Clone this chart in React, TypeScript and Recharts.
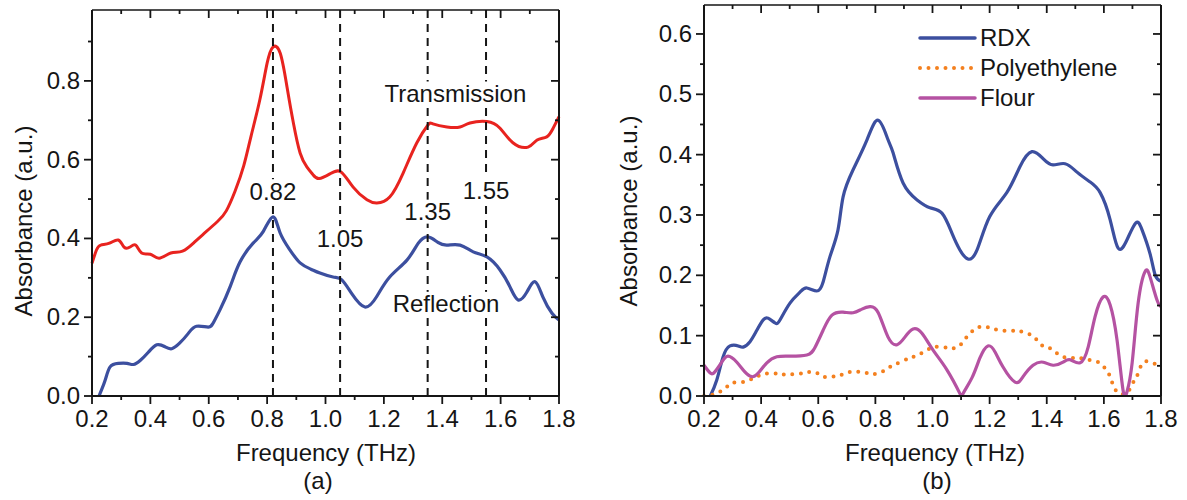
import { LineChart, Line, XAxis, YAxis, ReferenceLine, ReferenceDot, Legend } from 'recharts';

const FONT = '"Liberation Sans", Arial, Helvetica, sans-serif';
const INK = '#151515';

// ---- panel (a): transmission / reflection absorbance of RDX ----
const transFreq = [0.2, 0.215, 0.23, 0.26, 0.29, 0.31, 0.33, 0.35, 0.37, 0.4, 0.43, 0.47, 0.51, 0.55, 0.58, 0.63, 0.66, 0.69, 0.72, 0.745, 0.775, 0.8, 0.82, 0.845, 0.868, 0.89, 0.913, 0.936, 0.957, 0.978, 1.015, 1.053, 1.094, 1.142, 1.176, 1.22, 1.266, 1.313, 1.351, 1.368, 1.416, 1.461, 1.495, 1.553, 1.598, 1.642, 1.694, 1.725, 1.758, 1.78, 1.8];
const transAbs = [0.337, 0.37, 0.383, 0.388, 0.396, 0.378, 0.378, 0.383, 0.363, 0.36, 0.35, 0.363, 0.368, 0.39, 0.41, 0.443, 0.47, 0.52, 0.585, 0.66, 0.752, 0.845, 0.886, 0.87, 0.785, 0.693, 0.617, 0.582, 0.562, 0.552, 0.564, 0.569, 0.531, 0.498, 0.49, 0.505, 0.566, 0.643, 0.688, 0.691, 0.683, 0.683, 0.693, 0.697, 0.68, 0.643, 0.632, 0.65, 0.658, 0.68, 0.709];

const reflFreq = [0.224, 0.245, 0.262, 0.29, 0.32, 0.342, 0.365, 0.393, 0.422, 0.45, 0.473, 0.5, 0.53, 0.558, 0.598, 0.615, 0.638, 0.673, 0.707, 0.752, 0.787, 0.82, 0.844, 0.878, 0.913, 0.95, 0.981, 1.026, 1.056, 1.09, 1.135, 1.175, 1.22, 1.279, 1.318, 1.351, 1.385, 1.416, 1.461, 1.506, 1.553, 1.598, 1.632, 1.66, 1.69, 1.718, 1.745, 1.776, 1.8];
const reflAbs = [0.0, 0.04, 0.074, 0.083, 0.083, 0.08, 0.09, 0.111, 0.13, 0.125, 0.12, 0.134, 0.159, 0.177, 0.175, 0.185, 0.218, 0.277, 0.34, 0.388, 0.418, 0.455, 0.415, 0.371, 0.338, 0.322, 0.312, 0.302, 0.295, 0.26, 0.226, 0.252, 0.302, 0.345, 0.388, 0.404, 0.39, 0.383, 0.383, 0.366, 0.353, 0.32, 0.277, 0.244, 0.264, 0.29, 0.251, 0.21, 0.193];

const peakFreqs = [0.82, 1.05, 1.35, 1.55];

// ---- panel (b): RDX vs. polyethylene and flour ----
const rdxFreq = [0.222, 0.245, 0.267, 0.291, 0.32, 0.337, 0.361, 0.385, 0.407, 0.424, 0.449, 0.466, 0.501, 0.536, 0.56, 0.595, 0.617, 0.641, 0.669, 0.687, 0.722, 0.771, 0.81, 0.844, 0.862, 0.897, 0.946, 0.991, 1.033, 1.068, 1.096, 1.124, 1.156, 1.2, 1.26, 1.306, 1.348, 1.388, 1.422, 1.464, 1.506, 1.551, 1.587, 1.622, 1.65, 1.681, 1.712, 1.734, 1.762, 1.78, 1.8];
const rdxAbs = [0, 0.027, 0.065, 0.083, 0.083, 0.081, 0.09, 0.109, 0.126, 0.129, 0.121, 0.126, 0.154, 0.172, 0.179, 0.174, 0.189, 0.231, 0.275, 0.33, 0.375, 0.425, 0.457, 0.425, 0.403, 0.353, 0.325, 0.312, 0.303, 0.27, 0.242, 0.227, 0.242, 0.297, 0.337, 0.38, 0.405, 0.393, 0.383, 0.385, 0.371, 0.355, 0.337, 0.292, 0.245, 0.259, 0.287, 0.275, 0.235, 0.2, 0.19];

const peFreq = [0.2, 0.228, 0.256, 0.28, 0.302, 0.333, 0.361, 0.385, 0.407, 0.438, 0.466, 0.49, 0.519, 0.547, 0.571, 0.596, 0.617, 0.641, 0.666, 0.687, 0.712, 0.74, 0.771, 0.792, 0.823, 0.851, 0.886, 0.921, 0.949, 0.981, 1.002, 1.037, 1.068, 1.096, 1.12, 1.149, 1.177, 1.208, 1.236, 1.271, 1.299, 1.331, 1.359, 1.383, 1.404, 1.429, 1.457, 1.489, 1.517, 1.545, 1.58, 1.604, 1.622, 1.632, 1.646, 1.664, 1.685, 1.702, 1.716, 1.737, 1.769, 1.8];
const peAbs = [0, 0.002, 0.007, 0.015, 0.022, 0.023, 0.027, 0.032, 0.036, 0.038, 0.036, 0.036, 0.036, 0.038, 0.04, 0.038, 0.032, 0.032, 0.033, 0.036, 0.04, 0.04, 0.038, 0.036, 0.04, 0.048, 0.056, 0.063, 0.068, 0.076, 0.081, 0.081, 0.079, 0.084, 0.098, 0.111, 0.115, 0.112, 0.109, 0.108, 0.108, 0.104, 0.096, 0.084, 0.081, 0.073, 0.065, 0.063, 0.063, 0.06, 0.056, 0.046, 0.032, 0.018, 0.007, 0.003, 0.007, 0.022, 0.033, 0.055, 0.055, 0.05];

const flourFreq = [0.2, 0.222, 0.238, 0.262, 0.284, 0.315, 0.343, 0.368, 0.39, 0.42, 0.455, 0.501, 0.56, 0.588, 0.617, 0.648, 0.687, 0.722, 0.753, 0.781, 0.81, 0.844, 0.876, 0.904, 0.932, 0.963, 1.002, 1.051, 1.096, 1.107, 1.138, 1.166, 1.194, 1.219, 1.247, 1.289, 1.317, 1.352, 1.388, 1.422, 1.457, 1.482, 1.517, 1.545, 1.569, 1.597, 1.622, 1.646, 1.667, 1.681, 1.699, 1.72, 1.744, 1.762, 1.786, 1.8];
const flourAbs = [0.051, 0.038, 0.04, 0.056, 0.066, 0.056, 0.04, 0.032, 0.038, 0.055, 0.065, 0.066, 0.068, 0.08, 0.109, 0.134, 0.139, 0.138, 0.144, 0.148, 0.138, 0.098, 0.085, 0.098, 0.111, 0.104, 0.076, 0.043, 0.004, 0.004, 0.03, 0.063, 0.083, 0.073, 0.048, 0.023, 0.032, 0.051, 0.056, 0.051, 0.056, 0.06, 0.055, 0.081, 0.131, 0.164, 0.151, 0.093, 0.01, 0.007, 0.055, 0.154, 0.206, 0.197, 0.159, 0.148];

// axis ticks (labels only on the major ones)
const freqTicks = [0.2, 0.3, 0.4, 0.5, 0.6, 0.7, 0.8, 0.9, 1.0, 1.1, 1.2, 1.3, 1.4, 1.5, 1.6, 1.7, 1.8];
const absTicksA = [0, 0.1, 0.2, 0.3, 0.4, 0.5, 0.6, 0.7, 0.8, 0.9];
const absTicksB = [0, 0.05, 0.1, 0.15, 0.2, 0.25, 0.3, 0.35, 0.4, 0.45, 0.5, 0.55, 0.6];

const RED = '#e8231f';
const BLUE = '#3c4f9f';
const ORANGE = '#f4801f';
const MAGENTA = '#b552a2';

const toPoints = (f: number[], v: number[]) => f.map((x, i) => ({ f: x, v: v[i] }));

const majorEven = (step: number) => (v: number) => Math.round(v / step) % 2 === 0;

type Side = 'bottom' | 'top' | 'left' | 'right';

// draws long/short tick marks itself so minor ticks can be shorter
function axisTick(side: Side, isMajor: (v: number) => boolean, label: boolean) {
  return (props: any) => {
    const { x, y, payload, index } = props;
    const v: number = payload.value;
    const major = isMajor(v);
    const len = major ? 8 : 4;
    let mark;
    if (side === 'bottom' || side === 'top') mark = <line x1={x} y1={y} x2={x} y2={y + len} stroke={INK} strokeWidth={1.8} />;
    else if (side === 'left') mark = <line x1={x - len} y1={y} x2={x} y2={y} stroke={INK} strokeWidth={1.8} />;
    else mark = <line x1={x} y1={y} x2={x - len} y2={y} stroke={INK} strokeWidth={1.8} />;
    let text = null;
    if (label && major) {
      if (side === 'bottom')
        text = <text x={x} y={y + 31} textAnchor="middle" fontSize={24} fill={INK} fontFamily={FONT}>{v.toFixed(1)}</text>;
      else if (side === 'left')
        text = <text x={x - 12} y={y + 8} textAnchor="end" fontSize={24} fill={INK} fontFamily={FONT}>{v.toFixed(1)}</text>;
    }
    return (
      <g key={`${side}-${index}`}>
        {mark}
        {text}
      </g>
    );
  };
}

function xTitle(caption: string, cx: number, capX: number) {
  return () => (
    <g fontFamily={FONT} fontSize={24} fill={INK}>
      <text x={cx} y={461} textAnchor="middle">Frequency (THz)</text>
      <text x={capX} y={489} textAnchor="middle">{caption}</text>
    </g>
  );
}

function yTitle(bx: number, cy: number) {
  return () => (
    <text transform={`translate(${bx},${cy}) rotate(-90)`} textAnchor="middle" fontFamily={FONT} fontSize={24} fill={INK}>
      Absorbance (a.u.)
    </text>
  );
}

// boxed annotation text centred on (cx, cy)
function tag(text: string, w: number) {
  return (p: any) => (
    <g>
      <rect x={p.cx - w / 2} y={p.cy - 12} width={w} height={24} fill="#fff" />
      <text x={p.cx} y={p.cy + 8.5} textAnchor="middle" fontFamily={FONT} fontSize={24} fill={INK}>{text}</text>
    </g>
  );
}

const peakLabelY = [0.52, 0.401, 0.468, 0.523];

function PanelA() {
  const freqMajor = majorEven(0.1);
  const absMajor = majorEven(0.1);
  return (
    <LineChart width={600} height={500} margin={{ top: 9, right: 40, bottom: 0, left: 0 }}>
      <XAxis xAxisId="b" dataKey="f" type="number" domain={[0.2, 1.8]} ticks={freqTicks} interval={0}
        height={104} stroke={INK} axisLine={{ strokeWidth: 2 }} tickLine={false} tickSize={0} tickMargin={0}
        tick={axisTick('bottom', freqMajor, true)} label={{ content: xTitle('(a)', 326, 318) }} />
      <XAxis xAxisId="t" orientation="top" dataKey="f" type="number" domain={[0.2, 1.8]} allowDataOverflow
        ticks={freqTicks} interval={0} height={1} stroke={INK} axisLine={{ strokeWidth: 1.5 }} tickLine={false}
        tickSize={0} tickMargin={0} tick={axisTick('top', freqMajor, false)} />
      <YAxis yAxisId="l" type="number" domain={[0, 0.98]} allowDataOverflow ticks={absTicksA} interval={0}
        width={92} stroke={INK} axisLine={{ strokeWidth: 2 }} tickLine={false} tickSize={0} tickMargin={0}
        tick={axisTick('left', absMajor, true)} label={{ content: yTitle(32, 221) }} />
      <YAxis yAxisId="r" orientation="right" type="number" domain={[0, 0.98]} allowDataOverflow ticks={absTicksA}
        interval={0} width={1} stroke={INK} axisLine={{ strokeWidth: 2 }} tickLine={false} tickSize={0}
        tickMargin={0} tick={axisTick('right', absMajor, false)} />

      <Line xAxisId="b" yAxisId="l" data={toPoints(transFreq, transAbs)} dataKey="v" type="natural"
        stroke={RED} strokeWidth={3} dot={false} isAnimationActive={false} />
      <Line xAxisId="b" yAxisId="l" data={toPoints(reflFreq, reflAbs)} dataKey="v" type="natural"
        stroke={BLUE} strokeWidth={3.2} dot={false} isAnimationActive={false} />

      {peakFreqs.map((f) => (
        <ReferenceLine key={f} xAxisId="b" yAxisId="l" x={f} stroke={INK} strokeWidth={2} strokeDasharray="8 6" />
      ))}
      {peakFreqs.map((f, i) => (
        <ReferenceDot key={`lbl-${f}`} xAxisId="b" yAxisId="l" x={f} y={peakLabelY[i]} r={0}
          shape={tag(f.toFixed(2), 50)} />
      ))}
      <ReferenceDot xAxisId="b" yAxisId="l" x={1.445} y={0.768} r={0} shape={tag('Transmission', 148)} />
      <ReferenceDot xAxisId="b" yAxisId="l" x={1.413} y={0.234} r={0} shape={tag('Reflection', 112)} />
    </LineChart>
  );
}

const legendItems = [
  { name: 'RDX', color: BLUE, width: 3.5 },
  { name: 'Polyethylene', color: ORANGE, width: 4, dash: '0 8.5' },
  { name: 'Flour', color: MAGENTA, width: 3.5 },
];

function LegendBox() {
  return (
    <div style={{ fontFamily: FONT, fontSize: 24, color: INK }}>
      {legendItems.map((s) => (
        <div key={s.name} style={{ display: 'flex', alignItems: 'center', height: 30 }}>
          <svg width={62} height={10} style={{ display: 'block' }}>
            <line x1={2} y1={5} x2={57} y2={5} stroke={s.color} strokeWidth={s.width}
              strokeDasharray={s.dash} strokeLinecap="round" />
          </svg>
          <span style={{ lineHeight: '30px' }}>{s.name}</span>
        </div>
      ))}
    </div>
  );
}

function PanelB() {
  const freqMajor = majorEven(0.1);
  const absMajor = majorEven(0.05);
  return (
    <LineChart width={587} height={500} margin={{ top: 4, right: 25, bottom: 0, left: 0 }}>
      <XAxis xAxisId="b" dataKey="f" type="number" domain={[0.2, 1.8]} ticks={freqTicks} interval={0}
        height={104} stroke={INK} axisLine={{ strokeWidth: 2 }} tickLine={false} tickSize={0} tickMargin={0}
        tick={axisTick('bottom', freqMajor, true)} label={{ content: xTitle('(b)', 335, 337) }} />
      <XAxis xAxisId="t" orientation="top" dataKey="f" type="number" domain={[0.2, 1.8]} allowDataOverflow
        ticks={freqTicks} interval={0} height={1} stroke={INK} axisLine={{ strokeWidth: 1.5 }} tickLine={false}
        tickSize={0} tickMargin={0} tick={axisTick('top', freqMajor, false)} />
      <YAxis yAxisId="l" type="number" domain={[0, 0.648]} allowDataOverflow ticks={absTicksB} interval={0}
        width={104} stroke={INK} axisLine={{ strokeWidth: 2 }} tickLine={false} tickSize={0} tickMargin={0}
        tick={axisTick('left', absMajor, true)} label={{ content: yTitle(37, 211) }} />
      <YAxis yAxisId="r" orientation="right" type="number" domain={[0, 0.648]} allowDataOverflow ticks={absTicksB}
        interval={0} width={1} stroke={INK} axisLine={{ strokeWidth: 2 }} tickLine={false} tickSize={0}
        tickMargin={0} tick={axisTick('right', absMajor, false)} />

      <Line xAxisId="b" yAxisId="l" name="RDX" data={toPoints(rdxFreq, rdxAbs)} dataKey="v" type="natural"
        stroke={BLUE} strokeWidth={3.2} dot={false} isAnimationActive={false} />
      <Line xAxisId="b" yAxisId="l" name="Polyethylene" data={toPoints(peFreq, peAbs)} dataKey="v" type="natural"
        stroke={ORANGE} strokeWidth={4} strokeDasharray="0 8.5" strokeLinecap="round" dot={false}
        isAnimationActive={false} />
      <Line xAxisId="b" yAxisId="l" name="Flour" data={toPoints(flourFreq, flourAbs)} dataKey="v" type="natural"
        stroke={MAGENTA} strokeWidth={3.2} dot={false} isAnimationActive={false} />

      <Legend layout="vertical" align="center" verticalAlign="middle" content={LegendBox}
        wrapperStyle={{ left: 318, top: 23, width: 240, height: 92 }} />
    </LineChart>
  );
}

export default function App() {
  return (
    <div style={{ position: 'absolute', left: 0, top: 0, width: 1187, height: 500, background: '#fff' }}>
      <div style={{ position: 'absolute', left: 0, top: 0 }}>
        <PanelA />
      </div>
      <div style={{ position: 'absolute', left: 600, top: 0 }}>
        <PanelB />
      </div>
    </div>
  );
}
